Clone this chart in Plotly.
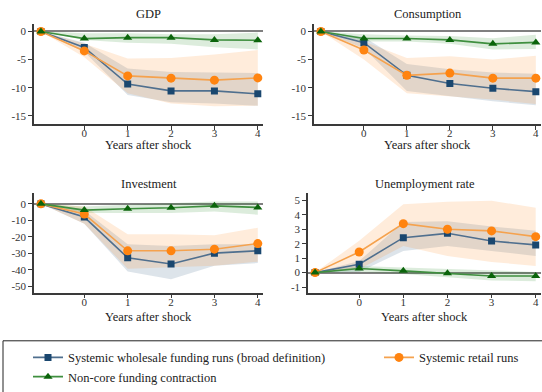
import plotly.graph_objects as go

W, H = 542, 392
x_years = [-1, 0, 1, 2, 3, 4]
x_ticks = [0, 1, 2, 3, 4]

series_names = ["Systemic wholesale funding runs (broad definition)",
                "Systemic retail runs",
                "Non-core funding contraction"]

# GDP
gdp_wh = [0, -2.83, -9.35, -10.56, -10.56, -11.08]
gdp_wh_lo = [0, -3.6, -11.3, -12.6, -12.8, -13.2]
gdp_wh_hi = [0, -2.0, -6.6, -7.2, -7.3, -7.4]
gdp_rt = [0, -3.46, -7.9, -8.3, -8.65, -8.25]
gdp_rt_lo = [0, -4.6, -11.0, -12.8, -13.3, -13.2]
gdp_rt_hi = [0, -2.2, -4.8, -4.7, -4.1, -3.3]
gdp_nc = [0, -1.27, -1.1, -1.1, -1.5, -1.56]
gdp_nc_lo = [0, -1.5, -2.0, -2.2, -2.8, -3.2]
gdp_nc_hi = [0, -0.3, -0.3, -0.5, -0.5, -0.2]

# Consumption
con_wh = [0, -2.0, -7.8, -9.25, -10.1, -10.7]
con_wh_lo = [0, -3.0, -10.6, -11.5, -12.4, -13.1]
con_wh_hi = [0, -1.0, -5.8, -6.7, -7.3, -7.5]
con_rt = [0, -3.3, -7.8, -7.4, -8.3, -8.3]
con_rt_lo = [0, -5.0, -11.0, -11.5, -12.1, -12.9]
con_rt_hi = [0, -1.8, -4.7, -4.4, -5.0, -4.3]
con_nc = [0, -1.25, -1.25, -1.5, -2.2, -1.95]
con_nc_lo = [0, -1.8, -1.8, -2.2, -3.2, -3.1]
con_nc_hi = [0, -0.5, -0.7, -0.8, -1.2, -0.6]

# Investment
inv_wh = [0, -8.0, -32.7, -36.5, -29.9, -28.5]
inv_wh_lo = [0, -12, -41, -45.8, -37.5, -35.9]
inv_wh_hi = [0, -4, -24.5, -25.5, -24.5, -24.5]
inv_rt = [0, -6.2, -28.5, -28.5, -27.5, -24.1]
inv_rt_lo = [0, -12, -39.4, -38.4, -37.5, -35.1]
inv_rt_hi = [0, -1.6, -18.5, -18.5, -19.1, -14.5]
inv_nc = [0, -3.8, -3.0, -2.4, -1.2, -2.2]
inv_nc_lo = [0, -5.6, -5.6, -5.6, -4.6, -6.6]
inv_nc_hi = [0, -1.6, -0.6, 0.4, 1.4, 1.4]

# Unemployment rate
une_wh = [0, 0.58, 2.42, 2.72, 2.19, 1.92]
une_wh_lo = [0, 0.05, 1.5, 1.85, 1.5, 1.15]
une_wh_hi = [0, 0.8, 3.5, 3.55, 3.2, 2.9]
une_rt = [0, 1.43, 3.39, 3.0, 2.89, 2.49]
une_rt_lo = [0, 0.23, 1.85, 1.15, 0.74, 0.46]
une_rt_hi = [0, 2.2, 4.73, 4.9, 4.97, 4.5]
une_nc = [0, 0.28, 0.12, -0.05, -0.23, -0.23]
une_nc_lo = [0, 0.05, -0.1, -0.35, -0.55, -0.6]
une_nc_hi = [0, 0.45, 0.35, 0.25, 0.1, 0.05]

panels = [
    dict(title="GDP", ax="", yt=[0, -5, -10, -15], yr=[-16.4, 1.4],
         data=[(gdp_wh, gdp_wh_lo, gdp_wh_hi), (gdp_rt, gdp_rt_lo, gdp_rt_hi), (gdp_nc, gdp_nc_lo, gdp_nc_hi)]),
    dict(title="Consumption", ax="2", yt=[0, -5, -10, -15], yr=[-16.4, 1.4],
         data=[(con_wh, con_wh_lo, con_wh_hi), (con_rt, con_rt_lo, con_rt_hi), (con_nc, con_nc_lo, con_nc_hi)]),
    dict(title="Investment", ax="3", yt=[0, -10, -20, -30, -40, -50], yr=[-53.9, 6.3],
         data=[(inv_wh, inv_wh_lo, inv_wh_hi), (inv_rt, inv_rt_lo, inv_rt_hi), (inv_nc, inv_nc_lo, inv_nc_hi)]),
    dict(title="Unemployment rate", ax="4", yt=[5, 4, 3, 2, 1, 0, -1], yr=[-1.39, 5.48],
         data=[(une_wh, une_wh_lo, une_wh_hi), (une_rt, une_rt_lo, une_rt_hi), (une_nc, une_nc_lo, une_nc_hi)]),
]

# layout geometry (pixels)
px_x = [(34, 263), (314, 541), (34, 263), (308, 541)]
px_y = [(24, 126), (24, 126), (197, 298), (197, 298)]
title_py = [14, 14, 187, 187]
xtitle_py = [148, 148, 323, 323]

band_cols = ["rgba(26,71,111,0.15)", "rgba(255,127,14,0.15)", "rgba(20,130,20,0.15)"]
line_cols = ["#4f6f8e", "#f5a24e", "#3f8f3f"]
mark_cols = ["#1a476f", "#ff8410", "#0b640b"]
symbols = ["square", "circle", "triangle-up"]
msizes = [7, 9, 8]
legends = ["legend", "legend2", "legend"]

FONT = "Liberation Serif"
fig = go.Figure()

for pi, p in enumerate(panels):
    xa = "x" + p["ax"]
    ya = "y" + p["ax"]
    # bands
    for si, (mid, lo, hi) in enumerate(p["data"]):
        fig.add_trace(go.Scatter(x=x_years, y=lo, xaxis=xa, yaxis=ya, mode="lines",
                                 line=dict(width=0), showlegend=False, hoverinfo="skip"))
        fig.add_trace(go.Scatter(x=x_years, y=hi, xaxis=xa, yaxis=ya, mode="lines",
                                 line=dict(width=0), fill="tonexty", fillcolor=band_cols[si],
                                 showlegend=False, hoverinfo="skip"))
    # lines
    for si, (mid, lo, hi) in enumerate(p["data"]):
        fig.add_trace(go.Scatter(x=x_years, y=mid, xaxis=xa, yaxis=ya, mode="lines+markers",
                                 name=series_names[si],
                                 line=dict(color=line_cols[si], width=1.6),
                                 marker=dict(symbol=symbols[si], size=msizes[si], color=mark_cols[si]),
                                 showlegend=(pi == 0), legend=legends[si]))

    x0, x1 = px_x[pi]
    y0, y1 = px_y[pi]
    axis_common = dict(showline=True, linecolor="#3a3a3a", linewidth=1.5, ticks="outside",
                       ticklen=4, tickcolor="#3a3a3a", tickwidth=1.2, showgrid=False,
                       tickfont=dict(family=FONT, size=11, color="#333"))
    fig.layout["xaxis" + p["ax"]] = dict(domain=[x0 / W, x1 / W], range=[-1.16, 4.12],
                                         anchor=ya, tickvals=x_ticks, zeroline=False,
                                         ticklabelstandoff=-6, **axis_common)
    fig.layout["yaxis" + p["ax"]] = dict(domain=[1 - y1 / H, 1 - y0 / H], range=p["yr"], anchor=xa,
                                         tickvals=p["yt"], ticktext=[str(v) for v in p["yt"]],
                                         zeroline=True, zerolinecolor="#808080", zerolinewidth=2,
                                         **axis_common)
    cx = (x0 + x1) / 2 / W
    fig.add_annotation(text=p["title"], x=cx, y=1 - title_py[pi] / H, xref="paper", yref="paper",
                       showarrow=False, xanchor="center", yanchor="middle",
                       font=dict(family=FONT, size=12.5, color="#222"))
    fig.add_annotation(text="Years after shock", x=cx, y=1 - xtitle_py[pi] / H, xref="paper", yref="paper",
                       showarrow=False, xanchor="center", yanchor="middle",
                       font=dict(family=FONT, size=12.5, color="#222"))

# legend frame
fig.add_shape(type="rect", xref="paper", yref="paper", x0=3 / W, x1=1.02, y0=-0.02, y1=1 - 347 / H,
              line=dict(color="#222", width=1), fillcolor="rgba(0,0,0,0)")

leg_font = dict(family=FONT, size=12.5, color="#222")
fig.update_layout(
    width=W, height=H, margin=dict(l=0, r=0, t=0, b=0),
    paper_bgcolor="white", plot_bgcolor="white",
    legend=dict(x=28 / W, y=1 - 349 / H, xanchor="left", yanchor="top", orientation="v",
                font=leg_font, bgcolor="rgba(0,0,0,0)", traceorder="normal"),
    legend2=dict(x=379 / W, y=1 - 349 / H, xanchor="left", yanchor="top", orientation="v",
                 font=leg_font, bgcolor="rgba(0,0,0,0)"),
)

fig.write_html("out.html")
